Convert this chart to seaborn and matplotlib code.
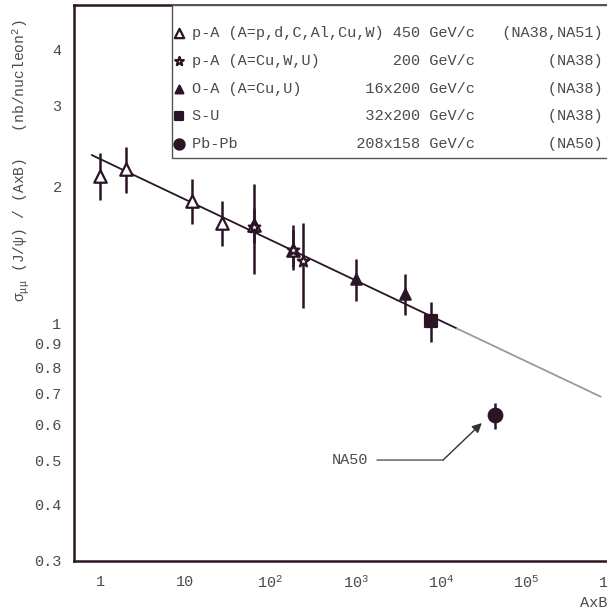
import matplotlib
matplotlib.use("Agg")
import matplotlib.pyplot as plt
from matplotlib.ticker import FixedLocator, LogLocator, NullLocator, NullFormatter
import seaborn as sns

# p-A 450 GeV/c (NA38, NA51): A = p, d, C, Al, Cu, W
pa450_ab = [1, 2, 12, 27, 63.5, 184]
pa450_sig = [2.10, 2.18, 1.85, 1.66, 1.64, 1.45]
pa450_lo = [1.86, 1.93, 1.65, 1.48, 1.50, 1.31]
pa450_hi = [2.37, 2.44, 2.07, 1.85, 1.79, 1.64]

# p-A 200 GeV/c (NA38): A = Cu, W, U
pa200_ab = [63.5, 184, 238]
pa200_sig = [1.63, 1.45, 1.37]
pa200_lo = [1.28, 1.33, 1.08]
pa200_hi = [2.02, 1.60, 1.66]

# O-A 16x200 GeV/c (NA38): A = Cu, U
oa_ab = [1016, 3808]
oa_sig = [1.25, 1.16]
oa_lo = [1.12, 1.04]
oa_hi = [1.38, 1.28]

# S-U 32x200 GeV/c (NA38)
su_ab = [7616]
su_sig = [1.01]
su_lo = [0.91]
su_hi = [1.11]

# Pb-Pb 208x158 GeV/c (NA50)
pbpb_ab = [43264]
pbpb_sig = [0.628]
pbpb_lo = [0.584]
pbpb_hi = [0.668]

# fit line (dark part) and its extrapolation (grey part)
fit_ab = [0.8, 1.54e4]
fit_sig = [2.34, 0.973]
ext_ab = [1.54e4, 7.5e5]
ext_sig = [0.973, 0.689]

# legend columns
systems = ["p-A (A=p,d,C,Al,Cu,W)", "p-A (A=Cu,W,U)", "O-A (A=Cu,U)", "S-U", "Pb-Pb"]
energies = ["450 GeV/c", "200 GeV/c", "16x200 GeV/c", "32x200 GeV/c", "208x158 GeV/c"]
experiments = ["(NA38,NA51)", "(NA38)", "(NA38)", "(NA38)", "(NA50)"]

ytick_vals = [0.3, 0.4, 0.5, 0.6, 0.7, 0.8, 0.9, 1, 2, 3, 4]
ytick_labels = ["0.3", "0.4", "0.5", "0.6", "0.7", "0.8", "0.9", "1", "2", "3", "4"]
xtick_vals = [1, 10, 1e2, 1e3, 1e4, 1e5, 1e6]
xtick_labels = ["1", "10", "10$^{2}$", "10$^{3}$", "10$^{4}$", "10$^{5}$", "10$^{6}$"]

dark = "#2a1426"
grey_txt = "#4a4a4a"

sns.set_theme(style="white")
plt.rcParams["font.family"] = ["Liberation Mono", "DejaVu Sans"]
plt.rcParams["mathtext.fontset"] = "custom"
plt.rcParams["mathtext.rm"] = "Liberation Mono"
plt.rcParams["mathtext.it"] = "Liberation Mono"
plt.rcParams["mathtext.default"] = "regular"

fig = plt.figure(figsize=(6.07, 6.12), dpi=100)
ax = fig.add_axes([74 / 607, 1 - 561 / 612, 563 / 607, 556 / 612])
ax.set_xscale("log")
ax.set_yscale("log")

# fit line
sns.lineplot(x=fit_ab, y=fit_sig, ax=ax, color=dark, lw=1.3, zorder=2)
sns.lineplot(x=ext_ab, y=ext_sig, ax=ax, color="#9a9a9a", lw=1.3, zorder=2)

series = [
    (pa450_ab, pa450_sig, pa450_lo, pa450_hi, "^", 80, "white"),
    (pa200_ab, pa200_sig, pa200_lo, pa200_hi, "*", 75, "white"),
    (oa_ab, oa_sig, oa_lo, oa_hi, "^", 55, dark),
    (su_ab, su_sig, su_lo, su_hi, "s", 70, dark),
    (pbpb_ab, pbpb_sig, pbpb_lo, pbpb_hi, "o", 95, dark),
]

for i, (xs, ys, lo, hi, mk, size, face) in enumerate(series):
    err = [[y - l for y, l in zip(ys, lo)], [h - y for y, h in zip(ys, hi)]]
    ax.errorbar(xs, ys, yerr=err, fmt="none", ecolor=dark, elinewidth=1.8,
                capsize=0, zorder=3)
    label = systems[i].ljust(31 - len(energies[i])) + energies[i] + experiments[i].rjust(14)
    sns.scatterplot(x=xs, y=ys, ax=ax, marker=mk, s=size, color=face,
                    edgecolor=dark, linewidth=1.6, zorder=4, label=label)

ax.set_xlim(0.495, 2e6)
ax.set_ylim(0.3, 5.0)

ax.xaxis.set_major_locator(FixedLocator(xtick_vals))
ax.set_xticklabels(xtick_labels)
ax.xaxis.set_minor_locator(LogLocator(base=10, subs=range(2, 10), numticks=20))
ax.xaxis.set_minor_formatter(NullFormatter())
ax.yaxis.set_major_locator(FixedLocator(ytick_vals))
ax.set_yticklabels(ytick_labels)
ax.yaxis.set_minor_locator(NullLocator())

ax.tick_params(axis="both", which="major", direction="in", color=dark, width=1.4,
               labelcolor=grey_txt, labelsize=11)
ax.tick_params(axis="x", which="major", length=6.5, pad=10)
ax.tick_params(axis="x", which="minor", direction="in", length=3, width=1.2, color=dark)
ax.tick_params(axis="y", which="major", length=6, pad=9)
ax.yaxis.get_major_ticks()[ytick_vals.index(1)].tick1line.set_markersize(11.5)

for sp in ax.spines.values():
    sp.set_color(dark)
    sp.set_linewidth(1.8)

ax.set_ylabel(r"$\sigma_{\mu\mu}$ (J/$\psi$) / (AxB)   (nb/nucleon$^{2}$)",
              fontsize=10.5, color=grey_txt)
ax.yaxis.set_label_coords(-0.077, 0.72)
fig.text(580 / 607, 1 - 603 / 612, "AxB", fontsize=11, color=grey_txt,
         ha="left", va="center")

# NA50 arrow
ax.annotate("", xy=(30200, 0.603), xytext=(10600, 0.5),
            arrowprops=dict(arrowstyle="-|>", color="#333333", lw=1, mutation_scale=14,
                            shrinkA=0, shrinkB=0))
ax.annotate("NA50", xy=(10600, 0.5), xytext=(1400, 0.5), fontsize=11, color=grey_txt,
            ha="right", va="center",
            arrowprops=dict(arrowstyle="-", color="#555555", lw=1, shrinkA=4, shrinkB=0))

leg = ax.legend(loc="upper left", bbox_to_anchor=(98 / 563, 1.0), borderaxespad=0,
                frameon=True, fancybox=False, edgecolor="#555555", framealpha=1,
                fontsize=11, labelcolor=grey_txt, borderpad=0.42, labelspacing=0.9,
                handlelength=0.1, handletextpad=0.8, markerscale=0.75,
                title=" ", title_fontsize=1)
leg.get_frame().set_linewidth(1.0)

fig.savefig("out.png", dpi=100)
